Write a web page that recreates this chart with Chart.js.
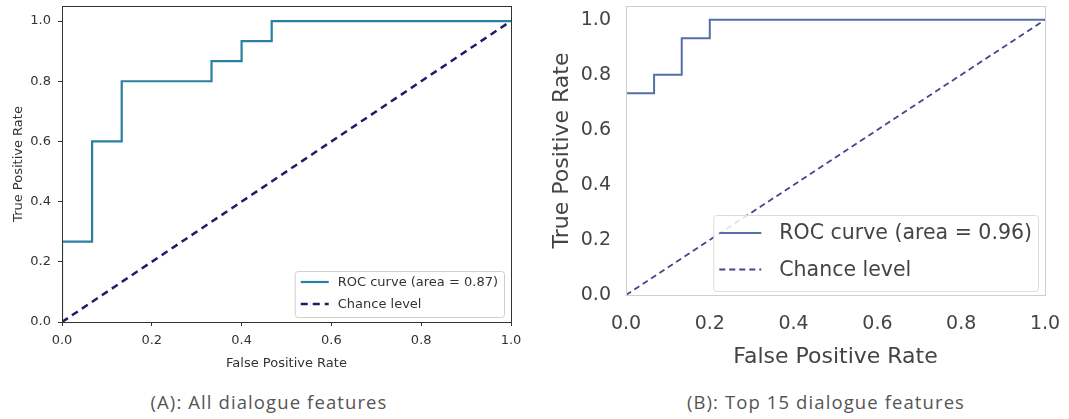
<!DOCTYPE html>
<html>
<head>
<meta charset="utf-8">
<script src="https://cdn.jsdelivr.net/npm/chart.js@4.4.1/dist/chart.umd.min.js"></script>
<style>
  html, body { margin: 0; padding: 0; background: #fff; }
  body { width: 1069px; height: 419px; position: relative; overflow: hidden; }
  .pane { position: absolute; top: 0; }
  .caption {
    position: absolute; top: 389px; font-family: "Open Sans", sans-serif;
    font-size: 18.5px; letter-spacing: 1.1px; color: #555; white-space: nowrap;
    transform: translateX(-50%);
  }
</style>
</head>
<body>
<div class="pane" style="left:0;width:540px;height:375px"><canvas id="rocA"></canvas></div>
<div class="pane" style="left:540px;width:529px;height:375px"><canvas id="rocB"></canvas></div>
<div class="caption" style="left:269px">(A): All dialogue features</div>
<div class="caption" style="left:826px">(B): Top 15 dialogue features</div>
<script>
// (A) all dialogue features
const fprA = [0, 0, 0.067, 0.067, 0.133, 0.133, 0.333, 0.333, 0.4, 0.4, 0.467, 0.467, 1];
const tprA = [0, 0.267, 0.267, 0.6, 0.6, 0.8, 0.8, 0.867, 0.867, 0.933, 0.933, 1, 1];
const aucA = 0.87;

// (B) top 15 dialogue features
const fprB = [0, 0, 0.067, 0.067, 0.133, 0.133, 0.2, 0.2, 1];
const tprB = [0, 0.733, 0.733, 0.8, 0.8, 0.933, 0.933, 1, 1];
const aucB = 0.96;

// chance line
const chanceX = [0, 1];
const chanceY = [0, 1];

const tickValues = [0, 0.2, 0.4, 0.6, 0.8, 1.0];
const xTitle = "False Positive Rate";
const yTitle = "True Positive Rate";

const toPoints = (xs, ys) => xs.map((x, i) => ({ x: x, y: ys[i] }));

// frame round the plot area (matplotlib spines)
const framePlugin = {
  id: "frame",
  afterDatasetsDraw(chart, args, opts) {
    const { ctx, chartArea: a } = chart;
    ctx.save();
    ctx.strokeStyle = opts.color;
    ctx.lineWidth = opts.width;
    ctx.strokeRect(Math.round(a.left) + 0.5, Math.round(a.top) + 0.5,
      Math.round(a.right - a.left), Math.round(a.bottom - a.top));
    ctx.restore();
  },
};

// legend drawn inside the axes, lower right
const innerLegend = {
  id: "innerLegend",
  afterDraw(chart, args, o) {
    const { ctx, chartArea: a } = chart;
    const sets = chart.data.datasets;
    ctx.save();
    ctx.font = `${o.fontSize}px "DejaVu Sans"`;
    const textW = Math.max(...sets.map((d) => ctx.measureText(d.label).width));
    const w = o.pad + o.lineLen + o.gap + textW + o.padRight;
    const h = o.boxH;
    const x = a.right - o.offX - w;
    const y = a.bottom - o.offY - h;
    ctx.fillStyle = "rgba(255,255,255,0.85)";
    ctx.strokeStyle = o.borderColor;
    ctx.lineWidth = 1;
    ctx.beginPath();
    ctx.roundRect(x + 0.5, y + 0.5, w, h, 3);
    ctx.fill();
    ctx.stroke();
    sets.forEach((d, i) => {
      const cy = y + o.firstRow + i * o.rowStep;
      ctx.strokeStyle = d.borderColor;
      ctx.lineWidth = d.borderWidth;
      ctx.setLineDash(d.borderDash || []);
      ctx.beginPath();
      ctx.moveTo(x + o.pad, cy);
      ctx.lineTo(x + o.pad + o.lineLen, cy);
      ctx.stroke();
      ctx.setLineDash([]);
      ctx.fillStyle = o.textColor;
      ctx.textBaseline = "middle";
      ctx.fillText(d.label, x + o.pad + o.lineLen + o.gap, cy + 1);
    });
    ctx.restore();
  },
};

function makeRoc(canvasId, fpr, tpr, auc, st) {
  const axis = (title, fixSize) => ({
    type: "linear",
    min: 0,
    max: title === yTitle ? 1.05 : 1,
    afterBuildTicks: (s) => { s.ticks = tickValues.map((v) => ({ value: v })); },
    afterFit: (s) => {
      fixSize(s);
      // let the layout padding alone decide the plot box
      s.paddingLeft = s.paddingRight = s.paddingTop = s.paddingBottom = 0;
    },
    grid: st.grid,
    border: { display: false },
    ticks: {
      color: st.tickColor,
      font: { family: "DejaVu Sans", size: st.tickSize },
      padding: title === yTitle ? st.yTickPad : st.xTickPad,
      callback: (v) => Number(v).toFixed(1),
      maxRotation: 0,
    },
    title: {
      display: true,
      text: title,
      color: st.tickColor,
      font: { family: "DejaVu Sans", size: st.titleSize },
      padding: title === yTitle ? { top: st.yTitlePad, bottom: 0 } : { top: 0, bottom: st.xTitlePad },
    },
  });

  return new Chart(document.getElementById(canvasId), {
    type: "scatter",
    data: {
      datasets: [
        {
          label: `ROC curve (area = ${auc.toFixed(2)})`,
          data: toPoints(fpr, tpr),
          showLine: true,
          borderColor: st.rocColor,
          borderWidth: st.rocWidth,
          pointRadius: 0,
          fill: false,
        },
        {
          label: "Chance level",
          data: toPoints(chanceX, chanceY),
          showLine: true,
          borderColor: st.chanceColor,
          borderWidth: st.chanceWidth,
          borderDash: st.chanceDash,
          pointRadius: 0,
          fill: false,
        },
      ],
    },
    options: {
      responsive: true,
      maintainAspectRatio: false,
      animation: false,
      layout: { padding: { top: st.top, right: st.right, left: 0, bottom: 0 } },
      plugins: {
        legend: { display: false },
        tooltip: { enabled: false },
        frame: { color: st.frameColor, width: 1 },
        innerLegend: st.legend,
      },
      scales: {
        x: axis(xTitle, (s) => { s.height = st.xAxisH; }),
        y: axis(yTitle, (s) => { s.width = st.yAxisW; }),
      },
    },
    plugins: [framePlugin, innerLegend],
  });
}

makeRoc("rocA", fprA, tprA, aucA, {
  top: 6, right: 29, yAxisW: 62, xAxisH: 53,
  tickSize: 13, titleSize: 13, tickColor: "#333",
  xTickPad: 7, yTickPad: 7, xTitlePad: 4, yTitlePad: 11,
  grid: { display: true, drawOnChartArea: false, drawTicks: true, tickLength: 4, color: "#333" },
  frameColor: "#333",
  rocColor: "#2b7fa3", rocWidth: 2.2,
  chanceColor: "#1c1c6b", chanceWidth: 2.5, chanceDash: [7, 5],
  legend: {
    fontSize: 13, textColor: "#333", borderColor: "#cfcfcf",
    pad: 6, lineLen: 28, gap: 9, padRight: 6,
    boxH: 46, firstRow: 11, rowStep: 22, offX: 7, offY: 5,
  },
});

makeRoc("rocB", fprB, tprB, aucB, {
  top: 6, right: 24, yAxisW: 86, xAxisH: 80,
  tickSize: 19, titleSize: 22, tickColor: "#444",
  xTickPad: 18, yTickPad: 15, xTitlePad: 5, yTitlePad: 9,
  grid: { display: false, drawTicks: false },
  frameColor: "#cfcfcf",
  rocColor: "#5470a8", rocWidth: 2,
  chanceColor: "#45458f", chanceWidth: 1.8, chanceDash: [6, 4],
  legend: {
    fontSize: 20.5, textColor: "#444", borderColor: "#dcdcdc",
    pad: 6, lineLen: 42, gap: 18, padRight: 6,
    boxH: 76, firstRow: 18, rowStep: 36.5, offX: 7, offY: 4,
  },
});
</script>
</body>
</html>
